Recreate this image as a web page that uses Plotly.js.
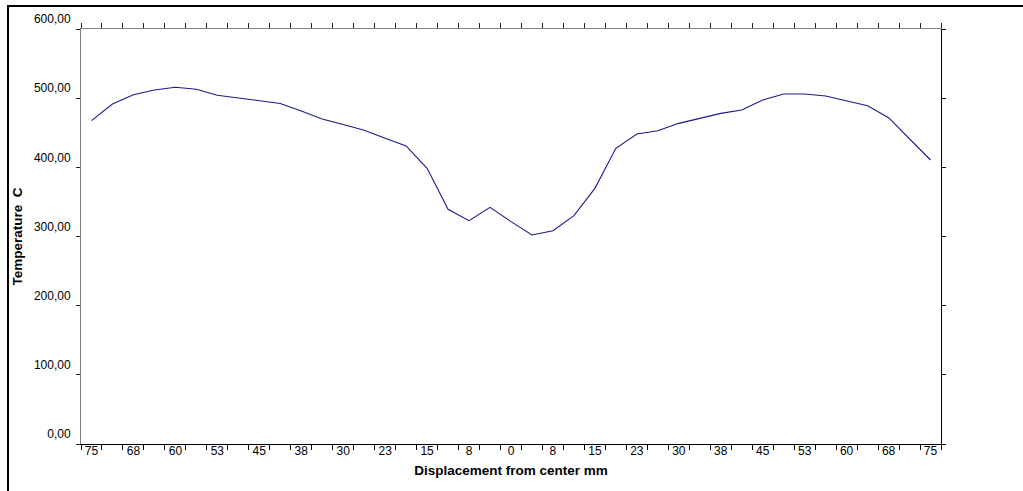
<!DOCTYPE html>
<html>
<head>
<meta charset="utf-8">
<script src="https://cdn.plot.ly/plotly-3.0.1.min.js"></script>
<style>
  html, body { margin: 0; padding: 0; background: #fff; }
  #wrap { position: relative; width: 1023px; height: 491px; overflow: hidden; }
  #chart { position: absolute; left: 0; top: 0; width: 1023px; height: 491px; }
  #frame { position: absolute; left: 7px; top: 5px; width: 2000px; height: 2000px;
           border-left: 2px solid #000; border-top: 2px solid #000; pointer-events: none; }
</style>
</head>
<body>
<div id="wrap">
  <div id="chart"></div>
  <div id="frame"></div>
</div>
<script>
// Signed displacement from centre (mm), one entry per measurement
const displacement = [-75, -71.25, -67.5, -63.75, -60, -56.25, -52.5, -48.75, -45, -41.25,
  -37.5, -33.75, -30, -26.25, -22.5, -18.75, -15, -11.25, -7.5, -3.75,
  0, 3.75, 7.5, 11.25, 15, 18.75, 22.5, 26.25, 30, 33.75,
  37.5, 41.25, 45, 48.75, 52.5, 56.25, 60, 63.75, 67.5, 71.25, 75];

// Temperature (C)
const temperature = [467.5, 491.6, 505, 511.8, 515.7, 512.8, 504.3, 500.5, 496.4, 492.4,
  481.5, 470, 462, 453.5, 442, 431, 398.6, 339.3, 322.9, 342.2,
  321.5, 302.2, 308.4, 330.1, 369.6, 427.5, 448.2, 453, 463.6, 470.8,
  478, 482.9, 497.4, 506, 506, 503.1, 496.4, 489.1, 471.8, 440.7, 410.6];

// X tick labels (every other measurement)
const xTickVals = [-75, -67.5, -60, -52.5, -45, -37.5, -30, -22.5, -15, -7.5, 0,
  7.5, 15, 22.5, 30, 37.5, 45, 52.5, 60, 67.5, 75];
const xTickText = ['75', '68', '60', '53', '45', '38', '30', '23', '15', '8', '0',
  '8', '15', '23', '30', '38', '45', '53', '60', '68', '75'];

// Y tick labels
const yTickVals = [0, 100, 200, 300, 400, 500, 600];
const yTickText = ['0,00', '100,00', '200,00', '300,00', '400,00', '500,00', '600,00'];

// category boundaries (between measurements) for the tick marks
const step = displacement[1] - displacement[0];
const boundaries = [displacement[0] - step / 2];
for (let i = 0; i < displacement.length; i++) boundaries.push(displacement[i] + step / 2);
const xRange = [boundaries[0], boundaries[boundaries.length - 1]];

const FONT = 'Arial, "Liberation Sans", sans-serif';

const trace = {
  x: displacement,
  y: temperature,
  type: 'scatter',
  mode: 'lines',
  line: { color: '#1a1a8c', width: 1.1 },
  hoverinfo: 'x+y',
  showlegend: false
};

const layout = {
  width: 1023,
  height: 491,
  margin: { l: 81, r: 82, t: 29, b: 47 },
  paper_bgcolor: 'rgba(0,0,0,0)',
  plot_bgcolor: '#fff',
  font: { family: FONT, size: 12, color: '#000' },
  showlegend: false,
  xaxis: {
    range: xRange,
    tickmode: 'array',
    tickvals: boundaries,
    showticklabels: false,
    ticks: 'outside',
    ticklen: 5,
    tickwidth: 1,
    tickcolor: '#000',
    showline: true,
    linecolor: '#000',
    linewidth: 1,
    showgrid: false,
    zeroline: false,
    fixedrange: true
  },
  xaxis2: {
    overlaying: 'x',
    anchor: 'y',
    side: 'bottom',
    range: xRange,
    tickmode: 'array',
    tickvals: xTickVals,
    ticktext: xTickText,
    ticks: '',
    ticklabelstandoff: -2,
    tickfont: { family: FONT, size: 12, color: '#000' },
    showline: false,
    showgrid: false,
    zeroline: false,
    title: { text: 'Displacement from center mm', standoff: 8,
             font: { family: FONT, size: 13.5, color: '#000', weight: 'bold' } }
  },
  xaxis3: {
    overlaying: 'x',
    anchor: 'y',
    side: 'top',
    range: xRange,
    tickmode: 'array',
    tickvals: boundaries,
    showticklabels: false,
    ticks: 'outside',
    ticklen: 5,
    tickcolor: '#222',
    showline: true,
    linecolor: '#808080',
    linewidth: 1,
    showgrid: false,
    zeroline: false
  },
  yaxis: {
    range: [0, 600],
    tickmode: 'array',
    tickvals: yTickVals,
    ticktext: yTickText,
    ticks: 'outside',
    ticklen: 4,
    tickcolor: '#222',
    ticklabelshift: -10,
    ticklabelstandoff: 3,
    tickfont: { family: FONT, size: 12, color: '#000' },
    showline: true,
    linecolor: '#808080',
    linewidth: 1,
    showgrid: false,
    zeroline: false,
    title: { text: 'Temperature \u00a0C', standoff: 8,
             font: { family: FONT, size: 13.5, color: '#000', weight: 'bold' } }
  },
  yaxis2: {
    overlaying: 'y',
    anchor: 'x',
    side: 'right',
    range: [0, 600],
    tickmode: 'array',
    tickvals: yTickVals,
    showticklabels: false,
    ticks: 'outside',
    ticklen: 4,
    tickcolor: '#000',
    showline: true,
    linecolor: '#000',
    linewidth: 1,
    showgrid: false,
    zeroline: false
  }
};

const helpers = [
  { x: [null], y: [null], xaxis: 'x2', yaxis: 'y', type: 'scatter', showlegend: false, hoverinfo: 'skip' },
  { x: [null], y: [null], xaxis: 'x3', yaxis: 'y', type: 'scatter', showlegend: false, hoverinfo: 'skip' },
  { x: [null], y: [null], xaxis: 'x', yaxis: 'y2', type: 'scatter', showlegend: false, hoverinfo: 'skip' }
];

Plotly.newPlot('chart', [trace].concat(helpers), layout, { displayModeBar: false, staticPlot: true });
</script>
</body>
</html>
